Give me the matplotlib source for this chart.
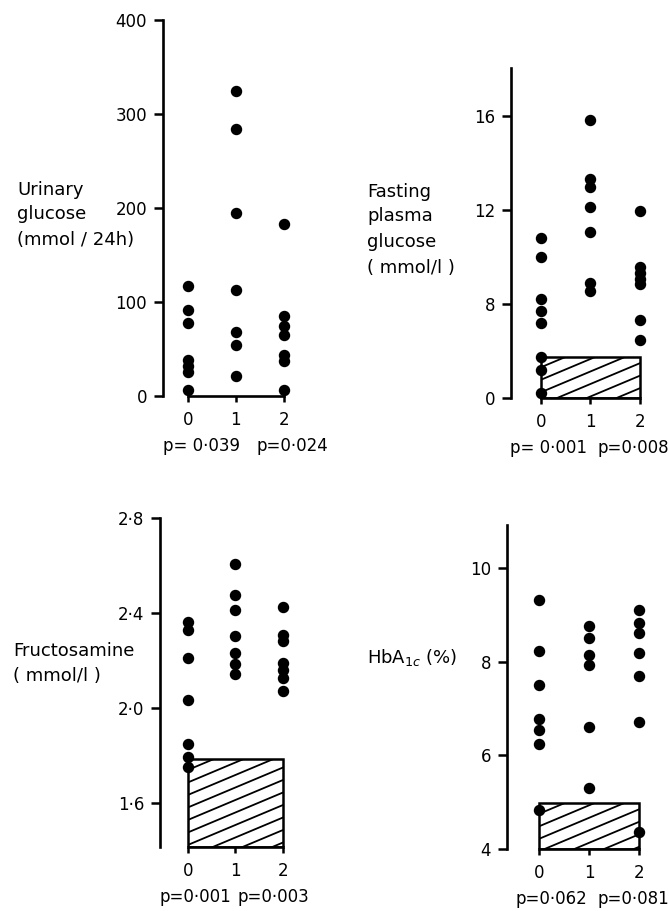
import numpy as np
import matplotlib
matplotlib.use('Agg')
import matplotlib.pyplot as plt
from matplotlib.patches import Rectangle
from matplotlib.lines import Line2D
from matplotlib.transforms import IdentityTransform

plt.rcParams['font.family'] = ['DejaVu Sans']

W, H = 669, 911

# ---- data ----
groups = [0, 1, 2]

urine_g0 = [117, 92, 78, 38, 32, 26, 6]
urine_g1 = [324, 284, 195, 113, 68, 54, 21]
urine_g2 = [183, 85, 74, 65, 44, 37, 6]
urine_pvals = ['p= 0·039', 'p=0·024']

fpg_g0 = [10.8, 10.0, 8.2, 7.7, 7.2, 5.75, 5.2, 4.2]
fpg_g1 = [15.8, 13.3, 12.95, 12.1, 11.05, 8.9, 8.55]
fpg_g2 = [11.95, 9.55, 9.3, 9.05, 8.85, 7.3, 6.45]
fpg_ticks = [4, 8, 12, 16]
fpg_ticklabels = ['0', '8', '12', '16']
fpg_normal = 5.75
fpg_pvals = ['p= 0·001', 'p=0·008']

fru_g0 = [2.36, 2.33, 2.21, 2.035, 1.85, 1.795, 1.75]
fru_g1 = [2.605, 2.475, 2.413, 2.305, 2.23, 2.187, 2.142]
fru_g2 = [2.423, 2.307, 2.28, 2.19, 2.16, 2.124, 2.072]
fru_ticks = [1.6, 2.0, 2.4, 2.8]
fru_ticklabels = ['1·6', '2·0', '2·4', '2·8']
fru_normal = 1.783
fru_pvals = ['p=0·001', 'p=0·003']

hba_g0 = [9.32, 8.24, 7.5, 6.78, 6.54, 6.25, 4.83]
hba_g1 = [8.77, 8.51, 8.15, 7.93, 6.6, 5.31]
hba_g2 = [9.12, 8.84, 8.61, 8.2, 7.7, 6.72, 4.36]
hba_ticks = [4, 6, 8, 10]
hba_normal = 4.98
hba_pvals = ['p=0·062', 'p=0·081']


fig = plt.figure(figsize=(W / 100, H / 100), dpi=100)


def px_axes(left, right, top, bottom):
    # pixel box -> figure fraction
    return fig.add_axes([left / W, 1 - bottom / H, (right - left) / W, (bottom - top) / H])


def hatch_box(ax, ybot, ytop):
    # white box between group 0 and 2 with shallow diagonal hatching
    rect = Rectangle((0, ybot), 2, ytop - ybot, facecolor='white', edgecolor='black',
                     linewidth=1.8, zorder=2)
    ax.add_patch(rect)
    x0d, y0d = ax.transData.transform((0, ybot))
    x1d, y1d = ax.transData.transform((2, ytop))
    k = 0.42
    rise = (x1d - x0d) * k
    for c in np.arange(y1d + 2, y0d - rise - 15, -12.5):
        ln = Line2D([x0d, x1d], [c, c + rise], transform=IdentityTransform(),
                    color='black', linewidth=1.3, zorder=2.5)
        ln.set_clip_path(rect)
        fig.add_artist(ln)


def panel(ax, cols, ylim, xlim, yticks, yticklabels, pvals, px, box=None):
    ax.set_xlim(*xlim)
    ax.set_ylim(*ylim)
    for sp in ['top', 'right']:
        ax.spines[sp].set_visible(False)
    ax.spines['left'].set_linewidth(1.9)
    ax.spines['bottom'].set_linewidth(1.9)
    ax.spines['bottom'].set_bounds(0, 2)
    ax.set_xticks(groups)
    ax.set_xticklabels([str(g) for g in groups])
    ax.set_yticks(yticks)
    ax.set_yticklabels(yticklabels)
    ax.tick_params(axis='y', length=6.5, width=1.8, pad=5, labelsize=12)
    ax.tick_params(axis='x', length=4, width=1.8, pad=7, labelsize=12)
    if box is not None:
        hatch_box(ax, ylim[0], box)
    for g, vals in zip(groups, cols):
        ax.scatter([g] * len(vals), vals, s=52, color='black', zorder=3, clip_on=False)
    for x, t in zip(px, pvals):
        ax.annotate(t, xy=(x, 0), xycoords=('data', 'axes fraction'), xytext=(0, -36),
                    textcoords='offset points', ha='left', va='center', fontsize=12)


def label(x, ys, lines):
    for y, s in zip(ys, lines):
        fig.text(x / W, 1 - y / H, s, ha='left', va='center', fontsize=13)


ax1 = px_axes(163, 298, 20, 396)
panel(ax1, [urine_g0, urine_g1, urine_g2], (0, 400), (-0.52, 2.3),
      [0, 100, 200, 300, 400], ['0', '100', '200', '300', '400'], urine_pvals, [-0.52, 1.44])

ax2 = px_axes(511, 655, 68, 398)
panel(ax2, [fpg_g0, fpg_g1, fpg_g2], (4, 18.03), (-0.6, 2.3),
      fpg_ticks, fpg_ticklabels, fpg_pvals, [-0.62, 1.15], box=fpg_normal)

ax3 = px_axes(160, 297, 518, 847)
panel(ax3, [fru_g0, fru_g1, fru_g2], (1.414, 2.8), (-0.59, 2.3),
      fru_ticks, fru_ticklabels, fru_pvals, [-0.6, 1.05], box=fru_normal)

ax4 = px_axes(507, 654, 525, 849)
panel(ax4, [hba_g0, hba_g1, hba_g2], (4, 10.93), (-0.65, 2.3),
      hba_ticks, [str(t) for t in hba_ticks], hba_pvals, [-0.48, 1.16], box=hba_normal)

# axis titles
label(17, [190, 214, 240], ['Urinary', 'glucose', '(mmol / 24h)'])
label(367, [192, 216, 242, 268], ['Fasting', 'plasma', 'glucose', '( mmol/l )'])
label(13, [651, 676], ['Fructosamine', '( mmol/l )'])
fig.text(367 / W, 1 - 657 / H, 'HbA$_{1c}$ (%)', ha='left', va='center', fontsize=13)

fig.savefig('out.png', dpi=100)
